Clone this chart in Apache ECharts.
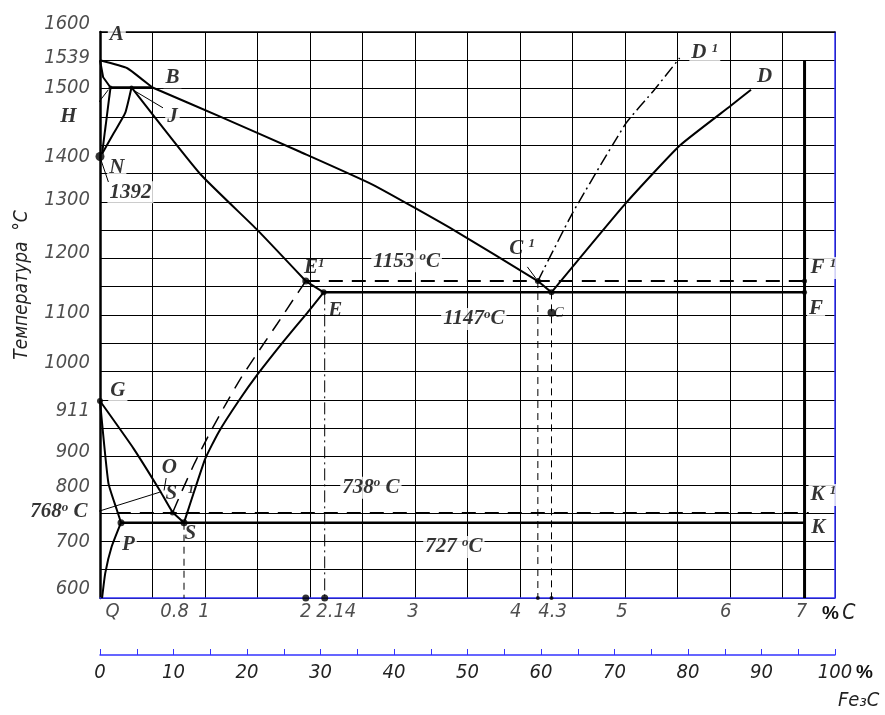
<!DOCTYPE html>
<html><head><meta charset="utf-8">
<script src="https://cdn.jsdelivr.net/npm/echarts@6/dist/echarts.min.js"></script>
<style>html,body{margin:0;padding:0;background:#fff}#c{width:885px;height:715px}</style>
</head><body><div id="c"></div>
<script>
// ---------- DATA (%C , temperature °C) ----------
const lineAB   = [[0,1550],[0.26,1536],[0.41,1515],[0.5,1502]];
const lineBC   = [[0.5,1502],[1.15,1450],[1.91,1388],[2.6,1330],[3.37,1250],[4.17,1160]];
const lineC1C  = [[4.17,1160],[4.3,1140]];
const lineCD   = [[4.3,1140],[5.01,1298],[5.52,1399],[6.01,1470],[6.2,1498]];
const lineC1D1 = [[4.17,1160],[4.5,1280],[5.01,1439],[5.28,1498],[5.52,1554]];
const lineAH   = [[0,1550],[0.03,1520],[0.1,1502]];
const lineHB   = [[0.1,1502],[0.5,1502]];
const lineHN   = [[0.1,1502],[0.02,1385]];
const lineJN   = [[0.3,1502],[0.24,1457],[0.13,1421],[0.02,1385]];
const lineJE   = [[0.3,1502],[0.95,1350],[1.5,1250],[1.96,1160]];
const lineE1E  = [[1.96,1160],[2.13,1140]];
const lineES   = [[2.13,1140],[1.97,1103],[1.75,1054],[1.5,995],[1.32,948],[1.13,893],[1.0,845],[0.8,733]];
const lineE1S1 = [[1.96,1160],[1.84,1127],[1.69,1085],[1.5,1033],[1.34,988],[1.19,940],[1.05,893],[0.9,838],[0.78,789],[0.69,750]];
const lineGS   = [[0,948],[0.32,864],[0.57,790],[0.69,752],[0.8,733]];
const lineGP   = [[0,948],[0.08,803],[0.16,756],[0.2,733]];
const linePQ   = [[0.2,733],[0.11,690],[0.05,644],[0.02,600]];
const linePSK  = [[0.2,733],[6.71,733]];
const line738  = [[0.16,750],[6.75,750]];
const lineECF  = [[2.13,1140],[6.71,1140]];
const line1153 = [[1.96,1160],[6.71,1160]];
const lineFe3C = [[6.71,1550],[6.71,600]];
const vertS    = [[0.8,733],[0.8,600]];
const vertE    = [[2.14,1140],[2.14,600]];
const vertC1   = [[4.17,1160],[4.17,600]];
const vertC    = [[4.3,1140],[4.3,600]];
const leadH    = [[-0.12,1450],[0.08,1498]];
const leadJ    = [[0.32,1497],[0.6,1466]];
const leadN    = [[0.0,1379],[0.08,1335]];
const lead768  = [[-0.12,747],[0.57,787]];
const leadO    = [[0.63,812],[0.61,790]];
const leadC1   = [[4.07,1185],[4.15,1165]];

const dotsAt = [[0,1380],[0,948],[0.2,733],[0.8,733],[0.69,750],[1.96,1160],[2.13,1140],[4.17,1160],[4.3,1140],[4.3,1104],[6.71,1160],[6.71,1140],[1.96,600],[2.14,600],[4.17,600],[4.3,600],[0.1,1502],[0.3,1502]];

const ptText = ['A','B','H','J','N','1392','G','O','S  {s|1}','S','P','E{s|1}','E','1153 {s|o}C','1147{s|o}C','C {s|1}','D {s|1}','D','F {s|1}','F','K {s|1}','K','738{s|o} C','727 {s|o}C'];
const ptAt   = [[0.16,1596],[0.69,1520],[-0.3,1451],[0.69,1450],[0.16,1360],[0.29,1317],[0.17,967],[0.66,830],[0.76,784],[0.86,713],[0.27,694],[2.04,1183],[2.24,1107],[2.92,1195],[3.56,1093],[4.02,1218],[5.76,1563],[6.33,1522],[6.89,1183],[6.82,1111],[6.89,782],[6.84,724],[2.58,795],[3.37,690]];
const isoText = ['768{s|o} C'];
const isoAt   = [[-0.12,752]];
const smallCText = ['C'];
const smallCAt   = [[4.37,1104]];

const xTickText = ['Q','0.8','1','2','2.14','3','4','4.3','5','6','7'];
const xTickAt   = [0.12,0.71,0.99,1.96,2.25,2.98,3.96,4.31,4.97,5.96,6.68];
const yTickText = ['1600','1539','1500','1400','1300','1200','1100','1000','911','900','800','700','600'];
const yTickAt   = [1614,1554,1501,1379,1303,1210,1104,1015,930,858,796,699,616];
const fe3cTicks = [0,10,20,30,40,50,60,70,80,90,100];

// ---------- STYLE / OPTIONS ----------
const NARROW = "'DejaVu Sans Condensed','Liberation Sans Narrow','DejaVu Sans',sans-serif";
const SERIF = "'Liberation Serif','DejaVu Serif',serif";
const BLUE = '#3333ff';
const DASH = [14, 9];
const DASH_THIN = [7, 5];
const DASHDOT = [12, 4, 2, 4];

function curve(data, width, dash, smooth) {
  return {type:'line', data:data, xAxisIndex:0, yAxisIndex:0, symbol:'none', silent:true,
    clip:false, z:3, animation:false, smooth: smooth || false,
    lineStyle:{color:'#000', width:width, type: dash || 'solid'}};
}
const SM = 0.15;
const boldRich = {
  s:{fontFamily:SERIF, fontWeight:'bold', fontStyle:'italic', fontSize:13, verticalAlign:'top', color:'#000', lineHeight:22}
};
const dotSize = [9,6,7,7,5,7,6,6,6,8,5,5,7,7,4,4,4,4];
const noBg = {'E{s|1}':1,'E':1,'S  {s|1}':1,'S':1,'O':1,'C {s|1}':1};

const series = [
  curve(lineAB,2,null,SM), curve(lineBC,2,null,SM), curve(lineC1C,2), curve(lineCD,2,null,SM),
  curve(lineC1D1,1.5,DASHDOT,SM),
  curve(lineAH,2), curve(lineHB,2.5), curve(lineHN,2), curve(lineJN,2,null,SM), curve(lineJE,2,null,SM),
  curve(lineE1E,2),
  curve(lineES,2,null,SM), curve(lineE1S1,1.5,DASH,SM), curve(lineGS,2,null,SM), curve(lineGP,2,null,SM),
  curve(linePQ,2,null,SM),
  curve(linePSK,2.5), curve(line738,2,DASH), curve(lineECF,2.5), curve(line1153,2,DASH),
  curve(lineFe3C,3), curve(vertS,1,DASH_THIN), curve(vertE,1,DASHDOT), curve(vertC1,1,DASH_THIN),
  curve(vertC,1,DASH_THIN),
  curve(leadH,1), curve(leadJ,1), curve(leadN,1), curve(lead768,1), curve(leadO,1), curve(leadC1,1),
  {type:'scatter', silent:true, clip:false, z:4, animation:false, symbol:'circle',
   itemStyle:{color:'#000'},
   data: dotsAt.map((p,i)=>({value:p, symbolSize:dotSize[i]}))},
  // point labels
  {type:'scatter', silent:true, clip:false, z:1, animation:false, symbolSize:0,
   data: ptAt.map((p,i)=>({value:p, label:{backgroundColor: noBg[ptText[i]] ? 'transparent' : '#fff'}})),
   label:{show:true, position:'inside', formatter:p=>ptText[p.dataIndex], padding:[0,2],
     fontFamily:SERIF, fontWeight:'bold', fontStyle:'italic', fontSize:21, color:'#000', lineHeight:22, rich:boldRich}},
  {type:'scatter', silent:true, clip:false, z:1, animation:false, symbolSize:0,
   data: isoAt.map(p=>({value:p})),
   label:{show:true, position:'left', distance:0, formatter:p=>isoText[p.dataIndex],
     fontFamily:SERIF, fontWeight:'bold', fontStyle:'italic', fontSize:21, color:'#000', lineHeight:22, rich:boldRich}},
  {type:'scatter', silent:true, clip:false, z:1, animation:false, symbolSize:0,
   data: smallCAt.map(p=>({value:p})),
   label:{show:true, position:'inside', formatter:p=>smallCText[p.dataIndex],
     fontFamily:SERIF, fontStyle:'italic', fontSize:15, color:'#000'}},
  // tick labels
  {type:'scatter', silent:true, clip:false, z:1, animation:false, symbolSize:0,
   data: yTickAt.map(v=>({value:[0,v]})),
   label:{show:true, position:'left', distance:10, formatter:p=>yTickText[p.dataIndex],
     fontFamily:NARROW, fontStyle:'italic', fontSize:20, color:'#222'}},
  {type:'scatter', silent:true, clip:false, z:1, animation:false, symbolSize:0,
   data: xTickAt.map(v=>({value:[v,600]})),
   label:{show:true, position:'bottom', distance:4, formatter:p=>xTickText[p.dataIndex],
     fontFamily:NARROW, fontStyle:'italic', fontSize:20, color:'#222'}}
];

const option = {
  animation:false,
  backgroundColor:'#fff',
  grid:[{left:100, top:32, width:735, height:566}, {left:100, top:645, width:735, height:10}],
  xAxis:[
    {gridIndex:0, type:'value', min:0, max:7, interval:0.5, position:'bottom',
     axisLine:{show:true, onZero:false, lineStyle:{color:BLUE, width:1.5}}, axisTick:{show:false}, axisLabel:{show:false},
     splitLine:{show:true, lineStyle:{color:'#000', width:1}}},
    {gridIndex:0, type:'value', min:0, max:7, position:'top',
     axisLine:{show:true, onZero:false, lineStyle:{color:'#000', width:1.5}}, axisTick:{show:false}, axisLabel:{show:false}, splitLine:{show:false}},
    {gridIndex:1, type:'value', min:0, max:100, interval:5, position:'bottom',
     axisLine:{show:true, onZero:false, lineStyle:{color:BLUE, width:1.5}},
     axisTick:{show:true, inside:true, length:6, lineStyle:{color:BLUE, width:1}},
     axisLabel:{show:true, margin:8, formatter:v=> fe3cTicks.indexOf(v) >= 0 ? String(v) : '',
       fontFamily:NARROW, fontStyle:'italic', fontSize:20, color:'#222'},
     splitLine:{show:false}}
  ],
  yAxis:[
    {gridIndex:0, type:'value', min:600, max:1600, interval:50, position:'left',
     axisLine:{show:true, onZero:false, lineStyle:{color:'#000', width:2.5}}, axisTick:{show:false}, axisLabel:{show:false},
     splitLine:{show:true, lineStyle:{color:'#000', width:1}}},
    {gridIndex:0, type:'value', min:600, max:1600, position:'right',
     axisLine:{show:true, onZero:false, lineStyle:{color:BLUE, width:1.5}}, axisTick:{show:false}, axisLabel:{show:false}, splitLine:{show:false}},
    {gridIndex:1, type:'value', min:0, max:1, show:false}
  ],
  graphic:[
    {type:'text', x:22, y:285, rotation:Math.PI/2, silent:true,
     style:{text:'Температура  °C', fontSize:19, fontFamily:NARROW, fontStyle:'italic', fill:'#222', align:'center', verticalAlign:'middle'}},
    {type:'text', x:822, y:614, silent:true,
     style:{text:'{p|%} {c|C}', align:'left', verticalAlign:'middle', fill:'#222',
       rich:{p:{fontSize:19, fontWeight:'bold', fontFamily:"'Liberation Sans',sans-serif", fill:'#111'},
             c:{fontSize:21, fontFamily:NARROW, fontStyle:'italic', fill:'#222'}}}},
    {type:'text', x:856, y:673, silent:true,
     style:{text:'%', fontSize:19, fontWeight:'bold', fontFamily:"'Liberation Sans',sans-serif", fill:'#111', align:'left', verticalAlign:'middle'}},
    {type:'text', x:838, y:701, silent:true,
     style:{text:'Fe₃C', fontSize:20, fontFamily:NARROW, fontStyle:'italic', fill:'#222', align:'left', verticalAlign:'middle'}}
  ],
  series: series
};
const chart = echarts.init(document.getElementById('c'), null, {renderer:'canvas'});
chart.setOption(option);
</script></body></html>
